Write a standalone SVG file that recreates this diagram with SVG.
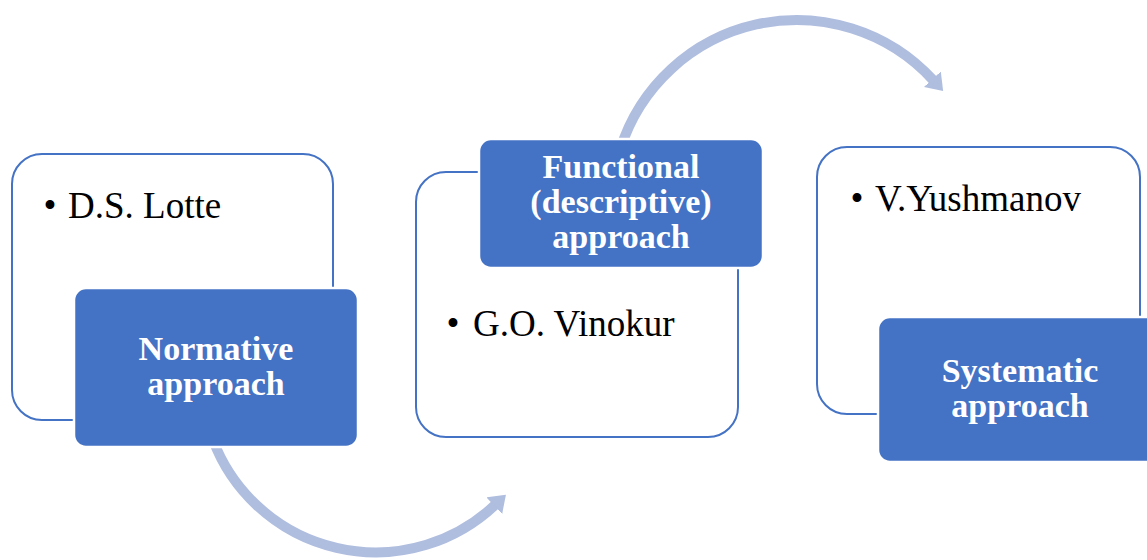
<svg xmlns="http://www.w3.org/2000/svg" width="1147" height="560" viewBox="0 0 1147 560">
  <defs>
    <style>
      .card { fill: #ffffff; stroke: #4472C4; stroke-width: 2; }
      .tag { fill: #4472C4; stroke: #ffffff; stroke-width: 2.5; }
      .tag-text { font-family: "Liberation Serif", "Times New Roman", serif; font-weight: bold; font-size: 34px; fill: #ffffff; text-anchor: middle; }
      .item { font-family: "Liberation Serif", "Times New Roman", serif; font-size: 37px; fill: #000000; }
      .bullet { font-family: "Liberation Serif", "Times New Roman", serif; font-size: 37px; fill: #000000; text-anchor: middle; }
      .flow { fill: none; stroke: #AFBDDF; stroke-width: 10; }
    </style>
    <marker id="head" markerUnits="userSpaceOnUse" markerWidth="16" markerHeight="23" viewBox="0 0 16 23" refX="1" refY="11.5" orient="auto">
      <path d="M0,0 L16,11.5 L0,23 Z" fill="#AFBDDF"/>
    </marker>
  </defs>

  <!-- curved flow arrows between stages -->
  <g id="connectors">
    <path class="flow" d="M 213 440 A 174 174 0 0 0 495 505" marker-end="url(#head)"/>
    <path class="flow" d="M 620 150 A 185 185 0 0 1 933 80" marker-end="url(#head)"/>
  </g>

  <!-- stage 1 -->
  <g id="normative">
    <rect class="card" x="12" y="154" width="321" height="266" rx="30"/>
    <text class="bullet" x="50" y="218">•</text>
    <text class="item" x="68" y="218">D.S. Lotte</text>
    <rect class="tag" x="74" y="288" width="284" height="159" rx="12"/>
    <text class="tag-text" x="216" y="360">Normative</text>
    <text class="tag-text" x="216" y="395">approach</text>
  </g>

  <!-- stage 2 -->
  <g id="functional">
    <rect class="card" x="416" y="172" width="322" height="265" rx="30"/>
    <text class="bullet" x="453" y="336">•</text>
    <text class="item" x="473" y="336">G.O. Vinokur</text>
    <rect class="tag" x="479" y="139" width="284" height="129" rx="12"/>
    <text class="tag-text" x="621" y="178">Functional</text>
    <text class="tag-text" x="621" y="213">(descriptive)</text>
    <text class="tag-text" x="621" y="248">approach</text>
  </g>

  <!-- stage 3 -->
  <g id="systematic">
    <rect class="card" x="817" y="147" width="323" height="267" rx="30"/>
    <text class="bullet" x="857" y="211">•</text>
    <text class="item" x="875" y="211">V.Yushmanov</text>
    <rect class="tag" x="878" y="317" width="284" height="145" rx="12"/>
    <text class="tag-text" x="1020" y="382">Systematic</text>
    <text class="tag-text" x="1020" y="417">approach</text>
  </g>
</svg>
